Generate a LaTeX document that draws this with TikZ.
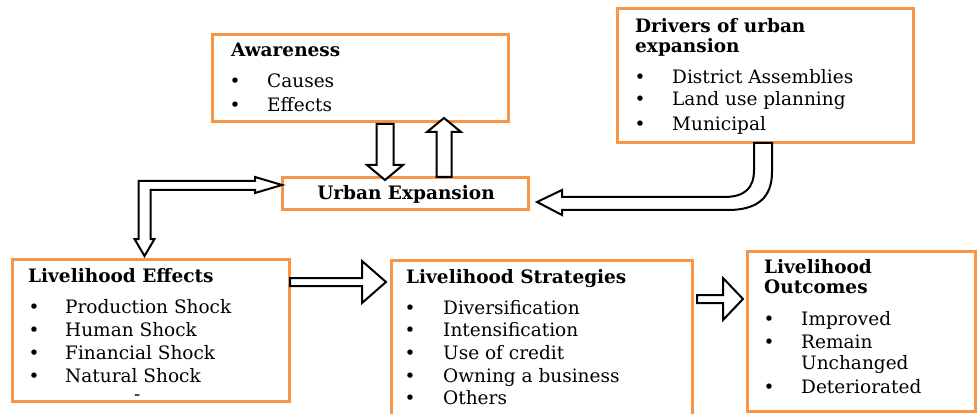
\documentclass[tikz,border=0pt]{standalone}
\usepackage{fontspec}
\setmainfont{DejaVu Serif}
\usetikzlibrary{calc}
\definecolor{boxorange}{RGB}{247,150,70}
\tikzset{
  box/.style={draw=boxorange, line width=3pt, fill=white, anchor=north west,
    inner sep=0pt, outer sep=0pt},
  txt/.style={anchor=base west, inner sep=0pt, font=\fontsize{18.5}{21}\selectfont},
  ttl/.style={anchor=base west, inner sep=0pt, font=\fontsize{18.5}{21}\selectfont\bfseries},
  bul/.style={anchor=base, inner sep=0pt, font=\fontsize{18.5}{21}\selectfont},
  barrow/.style={draw=black, line width=2pt, fill=white, line join=miter},
}
% straight block arrow: from, to, half shaft, half head, head length
\newcommand\barrowpath[5]{%
  \coordinate (bh) at ($(#2)!#5!(#1)$);
  \draw[barrow] ($(#1)!#3!90:(#2)$) -- ($(bh)!#3!90:(#2)$)
    -- ($(bh)!#4!90:(#2)$) -- (#2) -- ($(bh)!#4!-90:(#2)$)
    -- ($(bh)!#3!-90:(#2)$) -- ($(#1)!#3!-90:(#2)$) -- cycle;
}
\begin{document}
\begin{tikzpicture}[x=1pt,y=-1pt]
\useasboundingbox (0,0) rectangle (977,414);
\fill[white] (0,0) rectangle (977,414);

% boxes
\node[box, minimum width=296pt, minimum height=87pt]  (aware)      at (212,35)  {};
\node[box, minimum width=296pt, minimum height=134pt] (drivers)    at (617,9)   {};
\node[box, minimum width=246pt, minimum height=32pt]  (urban)      at (282,178) {};
\node[box, minimum width=277pt, minimum height=142pt] (effects)    at (12,259)  {};
\node[box, minimum width=301pt, minimum height=170pt] (strategies) at (391,260) {};
\node[box, minimum width=228pt, minimum height=160pt] (outcomes)   at (747,251) {};

% Awareness
\node[ttl] (awT) at (231,57) {Awareness};
\node[bul] (awB1) at (235,88)  {\textbullet};
\node[txt] (aw1)  at (267,88)  {Causes};
\node[bul] (awB2) at (235,112) {\textbullet};
\node[txt] (aw2)  at (267,112) {Effects};

% Drivers of urban expansion
\node[ttl] (drT1) at (635,33) {Drivers of urban};
\node[ttl] (drT2) at (635,53) {expansion};
\node[bul] (drB1) at (640,84)  {\textbullet};
\node[txt] (dr1)  at (672,84)  {District Assemblies};
\node[bul] (drB2) at (640,106) {\textbullet};
\node[txt] (dr2)  at (672,106) {Land use planning};
\node[bul] (drB3) at (640,131) {\textbullet};
\node[txt] (dr3)  at (672,131) {Municipal};

% Urban Expansion
\node[anchor=base, inner sep=0pt, font=\fontsize{18.5}{21}\selectfont\bfseries] (urT) at (406,200) {Urban Expansion};

% Livelihood Effects
\node[ttl] (efT) at (28,282) {Livelihood Effects};
\node[bul] (efB1) at (34,313) {\textbullet};
\node[txt] (ef1)  at (65,313) {Production Shock};
\node[bul] (efB2) at (34,336) {\textbullet};
\node[txt] (ef2)  at (65,336) {Human Shock};
\node[bul] (efB3) at (34,359) {\textbullet};
\node[txt] (ef3)  at (65,359) {Financial Shock};
\node[bul] (efB4) at (34,382) {\textbullet};
\node[txt] (ef4)  at (65,382) {Natural Shock};
\node[txt] (efD)  at (134,400) {-};

% Livelihood Strategies
\node[ttl] (stT) at (406,283) {Livelihood Strategies};
\node[bul] (stB1) at (410,314) {\textbullet};
\node[txt] (st1)  at (443,314) {Diversification};
\node[bul] (stB2) at (410,336) {\textbullet};
\node[txt] (st2)  at (443,336) {Intensification};
\node[bul] (stB3) at (410,359) {\textbullet};
\node[txt] (st3)  at (443,359) {Use of credit};
\node[bul] (stB4) at (410,382) {\textbullet};
\node[txt] (st4)  at (443,382) {Owning a business};
\node[bul] (stB5) at (410,404) {\textbullet};
\node[txt] (st5)  at (443,404) {Others};

% Livelihood Outcomes
\node[ttl] (ouT1) at (764,273) {Livelihood};
\node[ttl] (ouT2) at (764,293) {Outcomes};
\node[bul] (ouB1) at (769,325) {\textbullet};
\node[txt] (ou1)  at (801,325) {Improved};
\node[bul] (ouB2) at (769,348) {\textbullet};
\node[txt] (ou2)  at (801,348) {Remain};
\node[txt] (ou2b) at (801,369) {Unchanged};
\node[bul] (ouB3) at (769,393) {\textbullet};
\node[txt] (ou3)  at (801,393) {Deteriorated};

% Awareness <-> Urban Expansion
\coordinate (dA) at ([xshift=25pt,yshift=-2pt]aware.south);
\coordinate (dB) at ([yshift=-2pt]dA |- urban.north);
\barrowpath{dA}{dB}{8.5pt}{18pt}{15pt}
\coordinate (uA) at ([xshift=39pt,yshift=1pt]urban.north);
\coordinate (uB) at ([yshift=4pt]uA |- aware.south);
\barrowpath{uA}{uB}{7.5pt}{17pt}{14pt}

% Livelihood Effects -> Strategies -> Outcomes
\coordinate (sA) at ([xshift=1pt,yshift=48pt]effects.east);
\coordinate (sB) at ([xshift=-5pt]sA -| strategies.west);
\barrowpath{sA}{sB}{4pt}{21pt}{24pt}
\coordinate (oA) at ([xshift=5pt,yshift=46pt]strategies.east);
\coordinate (oB) at ([xshift=-4pt]oA -| outcomes.west);
\barrowpath{oA}{oB}{4pt}{21pt}{20pt}

% Urban Expansion <-> Livelihood Effects (elbow, two heads)
\coordinate (eT) at ([yshift=9pt]urban.west);
\coordinate (eD) at ([xshift=-6pt,yshift=3pt]effects.north);
\draw[barrow] let \p1=(eT), \p2=(eD) in
  (\p1) -- (\x1-27pt,\y1-8pt) -- (\x1-27pt,\y1-5pt) -- (\x2+6pt,\y1-5pt)
  -- (\x2+6pt,\y2+17pt) -- (\x2+10pt,\y2+17pt) -- (\p2)
  -- (\x2-10pt,\y2+17pt) -- (\x2-6pt,\y2+17pt) -- (\x2-6pt,\y1+4pt)
  -- (\x1-27pt,\y1+4pt) -- (\x1-27pt,\y1+8pt) -- cycle;

% Drivers -> Urban Expansion (curved)
\coordinate (cS) at ([xshift=-2pt]drivers.south);
\coordinate (cT) at ([xshift=9pt,yshift=-8pt]urban.east);
\draw[barrow] let \p1=(cS), \p2=(cT) in
  (\x1+9pt,\y1) -- (\x1+9pt,\y1-29pt)
  .. controls (\x1+9pt,\y1-55pt) and (\x1-6pt,\y1-67pt) .. (\x1-35pt,\y1-67pt)
  -- (\x2+25pt,\y2-8pt) -- (\x2+25pt,\y2-13pt) -- (\p2)
  -- (\x2+25pt,\y2+12pt) -- (\x2+25pt,\y2+5pt) -- (\x1-39pt,\y1-54pt)
  .. controls (\x1-18pt,\y1-54pt) and (\x1-9pt,\y1-45pt) .. (\x1-9pt,\y1-27pt)
  -- (\x1-9pt,\y1) -- cycle;
\end{tikzpicture}
\end{document}
